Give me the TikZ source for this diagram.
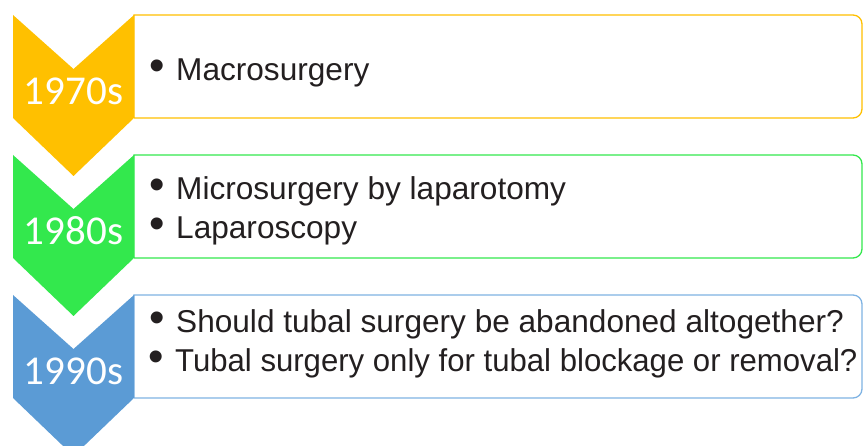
\documentclass[tikz,border=0pt]{standalone}
\usepackage{fontspec}
\setmainfont{Liberation Sans}
\newfontfamily\yearfont{Carlito}
\usepackage{tikz}
\usetikzlibrary{positioning,calc}

\definecolor{dec70}{HTML}{FFC000}
\definecolor{dec80}{HTML}{33E84D}
\definecolor{dec90}{HTML}{5B9BD5}
\definecolor{edge90}{HTML}{7FB3E3}
\definecolor{ink}{HTML}{231F20}

\newcommand{\bul}{\makebox[27pt][l]{\smash{\fontsize{44}{44}\selectfont•}}}

\begin{document}
\begin{tikzpicture}[x=1pt, y=-1pt,
  chev/.style={fill=#1, draw=none},
  era/.style={draw=#1, line width=1.3pt},
  year/.style={anchor=base, text=white, inner sep=0pt, font=\yearfont\fontsize{41}{41}\selectfont},
  pt/.style={anchor=base west, inner sep=0pt, text=ink, font=\fontsize{31.6}{39}\selectfont}]
\useasboundingbox (0,0) rectangle (863,446);
% boxes, sharp on the left, rounded on the right
\foreach \t/\c in {15/dec70, 155/dec80, 295/edge90} {
  \draw[era=\c, fill=white] (134,\t+103) -- (134,\t) [rounded corners=9pt] -- (862,\t) -- (862,\t+103) [sharp corners] -- (134,\t+103);
}
% chevrons
\foreach \t/\c in {15/dec70, 155/dec80, 295/dec90} {
  \fill[chev=\c] (13,\t) -- (73.5,\t+54) -- (134,\t) -- (134,\t+103) -- (73.5,\t+161) -- (13,\t+103) -- cycle;
}
\node[year] (y70) at (73.5,105) {1970s};
\node[year] (y80) at (73.5,245) {1980s};
\node[year] (y90) at (73.5,385) {1990s};
\node[pt] (t70a) at (149,81) {\bul Macrosurgery};
\node[pt] (t80a) at (149,200) {\bul Microsurgery by laparotomy};
\node[pt] (t80b) at (149,239) {\bul Laparoscopy};
\node[pt] (t90a) at (149,333) {\bul Should tubal surgery be abandoned altogether?};
\node[pt] (t90b) at (148,372) {\bul\scalebox{0.985}[1]{Tubal surgery only for tubal blockage or removal?}};
\end{tikzpicture}
\end{document}
